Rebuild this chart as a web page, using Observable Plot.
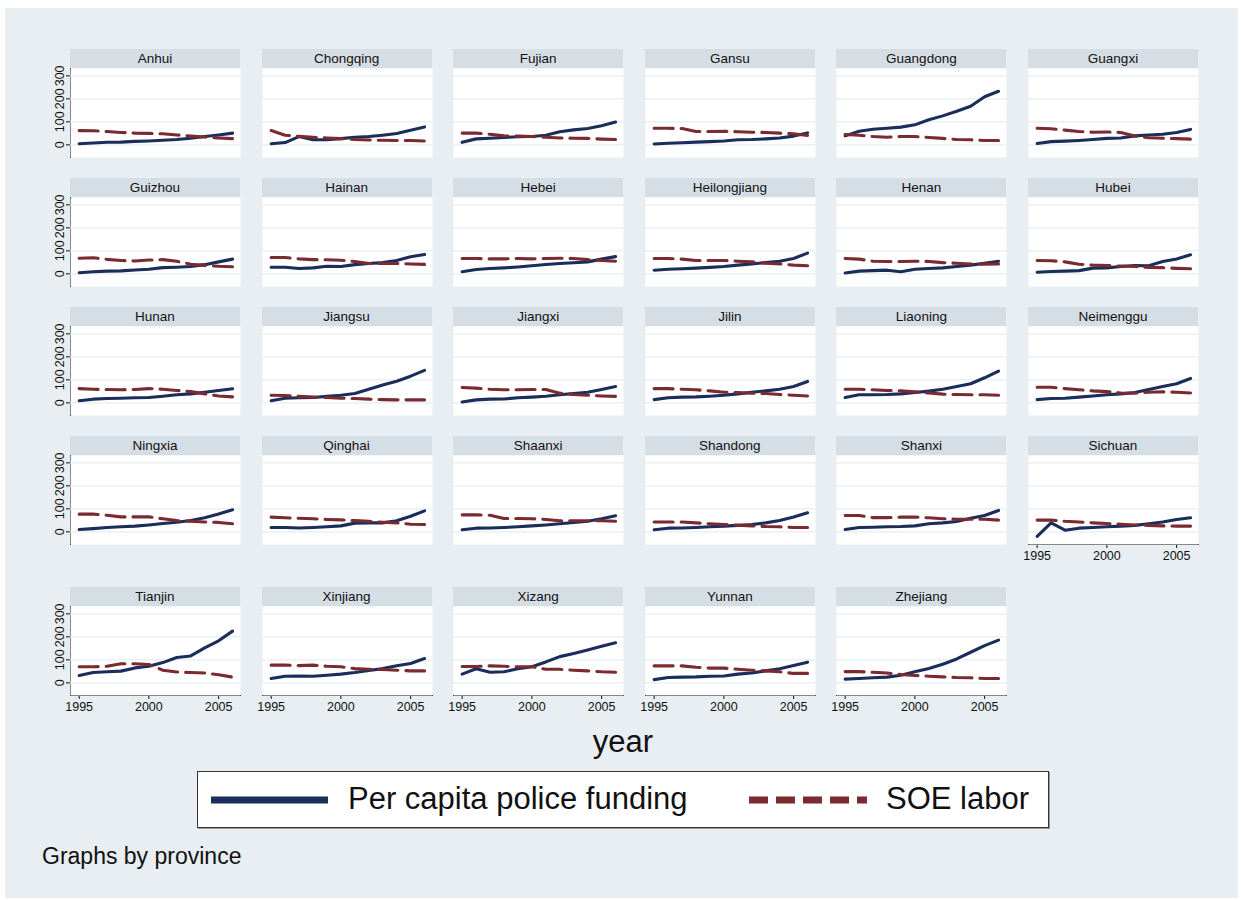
<!DOCTYPE html>
<html>
<head>
<meta charset="utf-8">
<script src="https://cdn.jsdelivr.net/npm/d3@7"></script>
<script src="https://cdn.jsdelivr.net/npm/@observablehq/plot@0.6"></script>
<style>
  html, body { margin: 0; padding: 0; background: #ffffff; }
  #page { position: relative; width: 1241px; height: 900px; background: #ffffff; font-family: "Liberation Sans", Arial, Helvetica, sans-serif; overflow: hidden; }
  #bg { position: absolute; left: 5px; top: 8px; width: 1233px; height: 890px; background: #e8eef1; }
  .strip { position: absolute; width: 170px; height: 19px; background: #d6dee5; color: #111; font-size: 13.5px; line-height: 19px; text-align: center; }
  .panel { position: absolute; }
  .panel svg { overflow: visible; }
  .panel svg text { font-size: 12.5px !important; fill: #111; }
  #xlabel { position: absolute; left: 523px; width: 200px; top: 724px; text-align: center; font-size: 31px; color: #111; }
  #legend { position: absolute; left: 197px; top: 771px; width: 850px; height: 55px; background: #ffffff; border: 1.5px solid #333; box-shadow: 1px 1px 0 #999; }
  #legend svg { position: absolute; left: 0; top: 0; }
  .legtext { position: absolute; top: 9px; font-size: 31px; color: #111; line-height: 35px; white-space: nowrap; }
  #note { position: absolute; left: 42px; top: 843px; font-size: 23px; color: #111; white-space: nowrap; }
</style>
</head>
<body>
<div id="page"><div id="bg"></div></div>
<script>
// ---------- data ----------
const years = [1995, 1996, 1997, 1998, 1999, 2000, 2001, 2002, 2003, 2004, 2005, 2006];
const xTicks = [1995, 2000, 2005];
const yTicks = [0, 100, 200, 300];
const seriesNames = ["Per capita police funding", "SOE labor"];
const provinces = ["Anhui", "Chongqing", "Fujian", "Gansu", "Guangdong", "Guangxi",
  "Guizhou", "Hainan", "Hebei", "Heilongjiang", "Henan", "Hubei",
  "Hunan", "Jiangsu", "Jiangxi", "Jilin", "Liaoning", "Neimenggu",
  "Ningxia", "Qinghai", "Shaanxi", "Shandong", "Shanxi", "Sichuan",
  "Tianjin", "Xinjiang", "Xizang", "Yunnan", "Zhejiang"];

const fundingAnhui = [5, 8, 11, 12, 15, 17, 20, 23, 29, 36, 43, 51];
const soeAnhui = [62, 61, 58, 54, 51, 50, 48, 43, 38, 34, 30, 27];
const fundingChongqing = [5, 10, 36, 22, 22, 27, 33, 36, 42, 49, 63, 78];
const soeChongqing = [62, 42, 37, 33, 30, 27, 23, 21, 20, 19, 19, 17];
const fundingFujian = [11, 26, 29, 32, 35, 36, 42, 57, 65, 71, 83, 99];
const soeFujian = [51, 51, 46, 39, 38, 36, 33, 30, 29, 28, 25, 23];
const fundingGansu = [4, 7, 9, 12, 14, 17, 22, 23, 26, 30, 38, 52];
const soeGansu = [72, 72, 71, 58, 58, 59, 57, 55, 54, 51, 48, 41];
const fundingGuangdong = [39, 59, 68, 72, 77, 87, 109, 126, 146, 168, 209, 233];
const soeGuangdong = [45, 42, 36, 33, 36, 36, 32, 28, 23, 22, 19, 19];
const fundingGuangxi = [6, 14, 16, 19, 23, 28, 30, 39, 43, 46, 54, 67];
const soeGuangxi = [72, 70, 64, 58, 55, 56, 54, 38, 31, 29, 27, 25];
const fundingGuizhou = [5, 9, 12, 13, 17, 20, 27, 29, 32, 40, 52, 64];
const soeGuizhou = [68, 70, 63, 58, 56, 60, 62, 55, 42, 37, 33, 31];
const fundingHainan = [29, 29, 23, 26, 33, 32, 40, 45, 49, 58, 74, 84];
const soeHainan = [71, 71, 65, 62, 61, 59, 54, 45, 45, 45, 43, 41];
const fundingHebei = [9, 19, 23, 26, 30, 35, 41, 45, 48, 52, 64, 75];
const soeHebei = [67, 67, 65, 65, 67, 65, 67, 68, 67, 62, 58, 55];
const fundingHeilongjiang = [16, 20, 22, 25, 28, 32, 38, 43, 49, 55, 67, 90];
const soeHeilongjiang = [67, 67, 64, 58, 58, 58, 55, 52, 46, 43, 38, 35];
const fundingHenan = [4, 12, 14, 16, 9, 20, 23, 26, 32, 38, 46, 55];
const soeHenan = [67, 64, 55, 54, 54, 55, 54, 49, 46, 43, 42, 43];
const fundingHubei = [7, 10, 12, 14, 25, 26, 32, 36, 35, 54, 65, 83];
const soeHubei = [58, 57, 52, 42, 38, 36, 34, 32, 28, 27, 24, 22];
const fundingHunan = [9, 16, 19, 20, 22, 23, 29, 35, 39, 46, 54, 61];
const soeHunan = [62, 59, 58, 57, 58, 62, 59, 54, 49, 39, 30, 26];
const fundingJiangsu = [9, 20, 22, 23, 28, 33, 41, 59, 78, 94, 116, 141];
const soeJiangsu = [33, 32, 28, 25, 23, 20, 19, 16, 14, 13, 13, 13];
const fundingJiangxi = [4, 13, 16, 17, 22, 25, 29, 35, 41, 46, 58, 71];
const soeJiangxi = [67, 64, 59, 57, 57, 58, 58, 42, 36, 33, 30, 28];
const fundingJilin = [14, 22, 25, 26, 29, 33, 39, 46, 52, 59, 71, 93];
const soeJilin = [62, 62, 59, 57, 52, 46, 45, 42, 41, 36, 33, 30];
const fundingLiaoning = [23, 35, 35, 36, 39, 45, 51, 59, 71, 83, 109, 138];
const soeLiaoning = [59, 59, 57, 54, 52, 48, 43, 38, 36, 35, 35, 33];
const fundingNeimenggu = [14, 19, 20, 25, 30, 35, 39, 45, 58, 71, 83, 106];
const soeNeimenggu = [68, 68, 62, 57, 52, 49, 43, 42, 46, 48, 46, 43];
const fundingNingxia = [10, 14, 19, 22, 25, 30, 36, 42, 49, 61, 78, 96];
const soeNingxia = [77, 77, 72, 65, 65, 65, 57, 49, 46, 43, 41, 35];
const fundingQinghai = [19, 19, 17, 19, 22, 26, 38, 39, 39, 48, 68, 91];
const soeQinghai = [64, 61, 59, 57, 54, 52, 49, 46, 42, 39, 33, 32];
const fundingShaanxi = [9, 16, 17, 19, 22, 26, 30, 35, 41, 46, 57, 70];
const soeShaanxi = [74, 74, 72, 58, 58, 57, 54, 48, 48, 48, 48, 46];
const fundingShandong = [9, 16, 17, 19, 22, 25, 28, 32, 39, 49, 65, 83];
const soeShandong = [43, 43, 43, 39, 35, 32, 29, 26, 23, 22, 19, 19];
const fundingShanxi = [10, 19, 20, 22, 23, 26, 35, 39, 45, 59, 71, 93];
const soeShanxi = [71, 71, 62, 62, 64, 64, 61, 57, 55, 55, 55, 51];
const fundingSichuan = [-20, 39, 7, 16, 19, 22, 25, 28, 35, 43, 54, 61];
const soeSichuan = [51, 51, 46, 43, 39, 36, 33, 30, 28, 26, 25, 25];
const fundingTianjin = [32, 45, 48, 51, 65, 72, 88, 110, 117, 152, 183, 225];
const soeTianjin = [70, 70, 72, 83, 83, 80, 55, 47, 45, 43, 35, 25];
const fundingXinjiang = [19, 29, 30, 29, 33, 38, 45, 54, 62, 74, 84, 106];
const soeXinjiang = [77, 77, 75, 77, 72, 70, 62, 59, 58, 55, 52, 52];
const fundingXizang = [38, 61, 46, 48, 61, 70, 91, 114, 128, 143, 159, 174];
const soeXizang = [71, 71, 74, 72, 70, 70, 59, 59, 55, 52, 48, 46];
const fundingYunnan = [14, 23, 25, 26, 29, 30, 38, 43, 52, 61, 75, 90];
const soeYunnan = [74, 74, 74, 68, 64, 64, 59, 55, 52, 48, 41, 41];
const fundingZhejiang = [16, 19, 22, 25, 33, 48, 62, 81, 104, 133, 162, 186];
const soeZhejiang = [49, 49, 46, 43, 36, 32, 29, 26, 23, 22, 19, 19];

const fundingList = [fundingAnhui, fundingChongqing, fundingFujian, fundingGansu, fundingGuangdong, fundingGuangxi,
  fundingGuizhou, fundingHainan, fundingHebei, fundingHeilongjiang, fundingHenan, fundingHubei,
  fundingHunan, fundingJiangsu, fundingJiangxi, fundingJilin, fundingLiaoning, fundingNeimenggu,
  fundingNingxia, fundingQinghai, fundingShaanxi, fundingShandong, fundingShanxi, fundingSichuan,
  fundingTianjin, fundingXinjiang, fundingXizang, fundingYunnan, fundingZhejiang];
const soeList = [soeAnhui, soeChongqing, soeFujian, soeGansu, soeGuangdong, soeGuangxi,
  soeGuizhou, soeHainan, soeHebei, soeHeilongjiang, soeHenan, soeHubei,
  soeHunan, soeJiangsu, soeJiangxi, soeJilin, soeLiaoning, soeNeimenggu,
  soeNingxia, soeQinghai, soeShaanxi, soeShandong, soeShanxi, soeSichuan,
  soeTianjin, soeXinjiang, soeXizang, soeYunnan, soeZhejiang];

// ---------- style / layout ----------
const NAVY = "#1b2d5b";
const RED = "#7b2a2f";
const GRID = "#e6eef1";
const FONT = '"Liberation Sans", Arial, Helvetica, sans-serif';
const colLeft = [70, 261.6, 453.2, 644.8, 836.4, 1028];
const stripTop = [49, 178, 307, 436, 587];
const ML = 40, MR = 6, PW = 170, PH = 89, MB = 30, SH = 19;

const page = document.getElementById("page");

provinces.forEach((name, k) => {
  const col = k % 6, row = Math.floor(k / 6);
  const showX = row === 4 || (row === 3 && col === 5);
  const showY = col === 0;
  const rows = years.map((yr, i) => ({year: yr, funding: fundingList[k][i], soe: soeList[k][i]}));

  const strip = document.createElement("div");
  strip.className = "strip";
  strip.style.left = colLeft[col] + "px";
  strip.style.top = stripTop[row] + "px";
  strip.textContent = name;
  page.appendChild(strip);

  const chart = Plot.plot({
    width: ML + PW + MR,
    height: PH + MB,
    marginLeft: ML, marginRight: MR, marginTop: 0, marginBottom: MB,
    style: {background: "transparent", fontFamily: FONT, fontSize: "12.5px", color: "#111", overflow: "visible"},
    x: {domain: [1994.38, 2006.57], ticks: xTicks, tickFormat: "d", tickSize: 4, tickPadding: 3,
        axis: showX ? "bottom" : null, line: true, label: null},
    y: {domain: [-55, 332], ticks: yTicks, tickSize: 4, tickPadding: 3, tickRotate: -90,
        axis: showY ? "left" : null, line: true, label: null},
    marks: [
      Plot.frame({fill: "white", stroke: "none"}),
      Plot.ruleY(yTicks, {stroke: GRID, strokeWidth: 1.2}),
      Plot.line(rows, {x: "year", y: "funding", stroke: NAVY, strokeWidth: 3.1, strokeLinejoin: "round"}),
      Plot.line(rows, {x: "year", y: "soe", stroke: RED, strokeWidth: 3.1, strokeDasharray: "19,8"})
    ]
  });
  const wrap = document.createElement("div");
  wrap.className = "panel";
  wrap.style.left = (colLeft[col] - ML) + "px";
  wrap.style.top = (stripTop[row] + SH) + "px";
  wrap.appendChild(chart);
  page.appendChild(wrap);
});

// x title
const xl = document.createElement("div");
xl.id = "xlabel";
xl.textContent = "year";
page.appendChild(xl);

// legend
const leg = document.createElement("div");
leg.id = "legend";
leg.innerHTML = `<svg width="850" height="55">
  <line x1="13" x2="130" y1="28" y2="28" stroke="${NAVY}" stroke-width="7"/>
  <line x1="551" x2="669" y1="28" y2="28" stroke="${RED}" stroke-width="7" stroke-dasharray="19,8"/>
</svg>
<div class="legtext" style="left:150px">${seriesNames[0]}</div>
<div class="legtext" style="left:688px">${seriesNames[1]}</div>`;
page.appendChild(leg);

const note = document.createElement("div");
note.id = "note";
note.textContent = "Graphs by province";
page.appendChild(note);
</script>
</body>
</html>
